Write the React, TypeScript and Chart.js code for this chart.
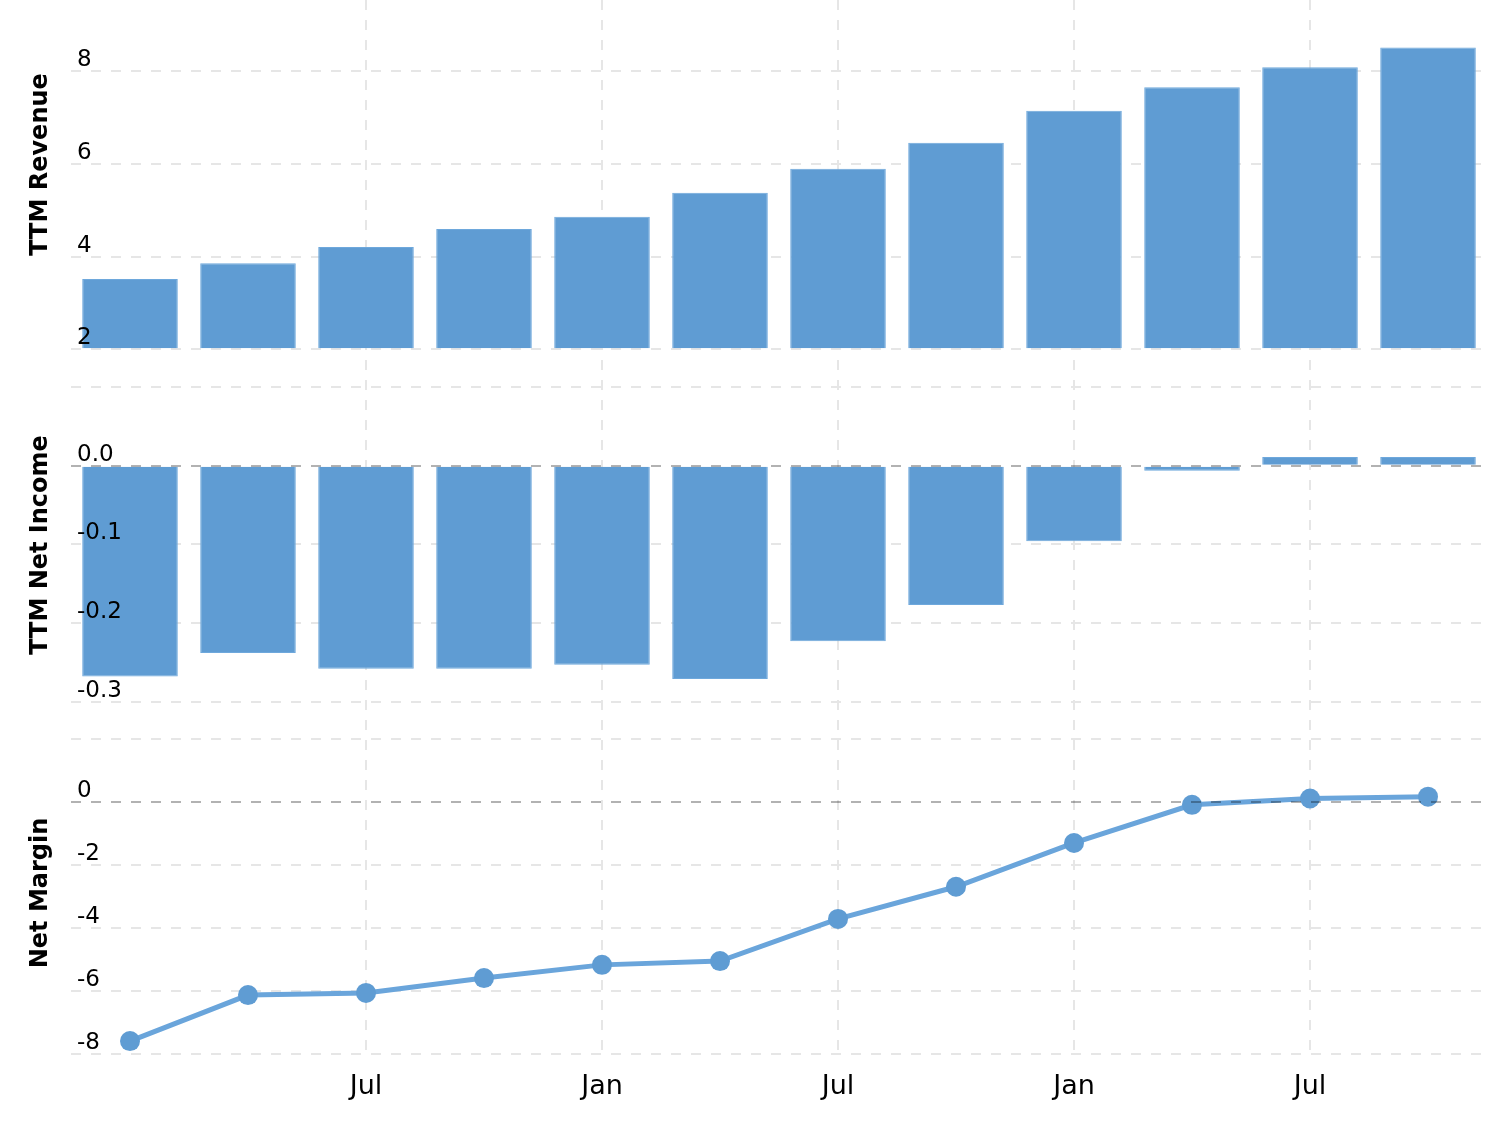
import React, { useEffect, useRef } from 'react';
import { Chart, registerables } from 'chart.js';

Chart.register(...registerables);

// ---- data ----
const revenue = [3.52, 3.86, 4.21, 4.6, 4.86, 5.38, 5.9, 6.46, 7.15, 7.66, 8.09, 8.52];
const netIncome = [-0.268, -0.238, -0.258, -0.258, -0.253, -0.271, -0.223, -0.177, -0.096, -0.0064, 0.011, 0.011];
const netMargin = [-7.6, -6.14, -6.07, -5.6, -5.18, -5.06, -3.72, -2.7, -1.31, -0.1, 0.1, 0.16];

const xTickIndex = [2, 4, 6, 8, 10];
const xTickLabels = ['Jul', 'Jan', 'Jul', 'Jan', 'Jul'];

const revenueTicks = [2, 4, 6, 8];
const netIncomeTicks = [-0.3, -0.2, -0.1, 0, 0.1];
const netIncomeGridOnly = [0.1];
const netMarginTicks = [-8, -6, -4, -2, 0, 2];
const netMarginGridOnly = [2];

const panelTitles = ['TTM Revenue', 'TTM Net Income', 'Net Margin'];

// ---- styles ----
const FONT = 'DejaVu Sans';
const GRID = '#e6e6e6';
const BAR = '#5f9cd3';
const BAR_EDGE = '#6ea8dc';
const LINE = '#6aa5db';
const DASH = [10, 10];
const TITLE_Y = [164.5, 545, 893];
const TITLE_X = 47;

const yScale = (
  min: number,
  max: number,
  weight: number,
  stackWeight: number,
  ticks: number[],
  gridOnly: number[],
  fmt: (v: number) => string
) => ({
  type: 'linear',
  position: 'left',
  stack: 'panels',
  stackWeight,
  weight,
  min,
  max,
  grid: {
    color: (ctx: any) => (ctx.tick && ctx.tick.value === 0 ? 'rgba(0,0,0,0)' : GRID),
    lineWidth: 2,
    drawTicks: false,
  },
  border: { display: false, dash: DASH },
  ticks: {
    mirror: true,
    padding: 6,
    labelOffset: -11,
    z: 1,
    color: '#000',
    autoSkip: false,
    font: { family: FONT, size: 23 },
    callback: (v: number) => (gridOnly.includes(v) ? '' : fmt(v)),
  },
  afterBuildTicks: (s: any) => {
    s.ticks = ticks.map((value) => ({ value }));
  },
  afterFit: (s: any) => {
    s.width = 71;
    s.paddingTop = 0;
    s.paddingBottom = 0;
    s.paddingLeft = 0;
    s.paddingRight = 0;
  },
});

const zeroLinePlugin = {
  id: 'zeroLines',
  afterDatasetsDraw(chart: any) {
    const { ctx, chartArea } = chart;
    ['yNI', 'yMar'].forEach((id) => {
      const s = chart.scales[id];
      const y = Math.round(s.getPixelForValue(0));
      ctx.save();
      ctx.strokeStyle = 'rgba(0,0,0,0.3)';
      ctx.lineWidth = 2;
      ctx.setLineDash(DASH);
      ctx.beginPath();
      ctx.moveTo(chartArea.left, y);
      ctx.lineTo(chartArea.right, y);
      ctx.stroke();
      ctx.restore();
    });
  },
};

const titlePlugin = {
  id: 'panelTitles',
  afterDraw(chart: any) {
    const { ctx } = chart;
    panelTitles.forEach((t, i) => {
      ctx.save();
      ctx.translate(TITLE_X, TITLE_Y[i]);
      ctx.rotate(-Math.PI / 2);
      ctx.font = `bold 24px "${FONT}"`;
      ctx.fillStyle = '#000';
      ctx.textAlign = 'center';
      ctx.textBaseline = 'alphabetic';
      ctx.fillText(t, 0, 0);
      ctx.restore();
    });
  },
};

export default function App() {
  const ref = useRef<HTMLCanvasElement | null>(null);

  useEffect(() => {
    if (!ref.current) return;
    const toXY = (arr: number[]) => arr.map((y, i) => ({ x: i, y }));
    const chart = new Chart(ref.current, {
      type: 'bar',
      data: {
        datasets: [
          {
            type: 'line',
            data: toXY(netMargin),
            yAxisID: 'yMar',
            borderColor: LINE,
            borderWidth: 5,
            pointRadius: 10,
            pointHoverRadius: 10,
            pointBackgroundColor: BAR,
            pointBorderColor: BAR,
            pointBorderWidth: 0,
            tension: 0,
          } as any,
          {
            type: 'bar',
            data: toXY(revenue),
            yAxisID: 'yRev',
            base: 2,
            backgroundColor: BAR,
            borderColor: BAR_EDGE,
            borderWidth: 1,
            grouped: false,
            barPercentage: 0.81,
            categoryPercentage: 1,
          } as any,
          {
            type: 'bar',
            data: toXY(netIncome),
            yAxisID: 'yNI',
            backgroundColor: BAR,
            borderColor: BAR_EDGE,
            borderWidth: 1,
            grouped: false,
            barPercentage: 0.81,
            categoryPercentage: 1,
          } as any,
        ],
      },
      options: {
        animation: false,
        responsive: false,
        maintainAspectRatio: false,
        devicePixelRatio: 1,
        events: [],
        layout: { autoPadding: false, padding: { left: 0, right: 27, top: 0, bottom: 0 } },
        plugins: { legend: { display: false }, tooltip: { enabled: false }, title: { display: false } },
        scales: {
          x: {
            type: 'linear',
            min: -0.5,
            max: 11.449,
            offset: false,
            grid: { color: GRID, lineWidth: 2, drawTicks: false, offset: false },
            border: { display: false, dash: DASH },
            ticks: {
              autoSkip: false,
              maxRotation: 0,
              padding: 16,
              color: '#000',
              font: { family: FONT, size: 27 },
              callback: (v: number) => {
                const k = xTickIndex.indexOf(v);
                return k >= 0 ? xTickLabels[k] : '';
              },
            },
            afterBuildTicks: (s: any) => {
              s.ticks = xTickIndex.map((value) => ({ value }));
            },
            afterFit: (s: any) => {
              s.height = 79;
              s.paddingLeft = 0;
              s.paddingRight = 0;
              s.paddingTop = 0;
              s.paddingBottom = 0;
            },
          },
          yRev: yScale(1.585, 9.544, 3, 368.5, revenueTicks, [], (v) => String(v)),
          yNI: yScale(-0.3235, 0.1236, 2, 351.7, netIncomeTicks, netIncomeGridOnly, (v) => v.toFixed(1)),
          yMar: yScale(-8.041, 2.587, 1, 334.8, netMarginTicks, netMarginGridOnly, (v) => String(v)),
        } as any,
      },
      plugins: [zeroLinePlugin, titlePlugin],
    } as any);
    return () => chart.destroy();
  }, []);

  return (
    <div style={{ position: 'absolute', left: 0, top: 0, width: 1508, height: 1134, background: '#fff' }}>
      <canvas ref={ref} width={1508} height={1134} style={{ display: 'block' }} />
    </div>
  );
}
